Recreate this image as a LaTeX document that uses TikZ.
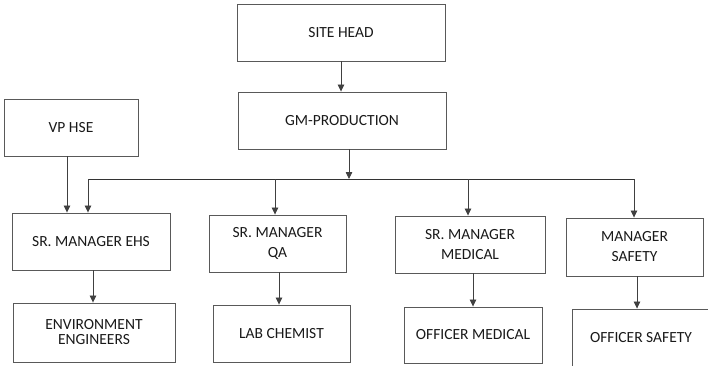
\documentclass[tikz,border=0pt]{standalone}
\usepackage{fontspec}
\setmainfont{Carlito}
\usetikzlibrary{arrows.meta}
\tikzset{
	orgbox/.style={draw=black!65, line width=0.9pt, inner sep=0pt, align=center, text=black!90,
		font=\fontsize{15.5}{20}\selectfont},
	link/.style={draw=black!75, line width=0.8pt, -{Triangle[width=6.5pt,length=7pt]}},
}

\begin{document}
\begin{tikzpicture}[x=1pt, y=-1pt]
				\useasboundingbox (0,0) rectangle (708,365);
				
				\node[orgbox, minimum width=208pt, minimum height=57pt] (site) at (341,32.5) {SITE HEAD};
				\node[orgbox, minimum width=208pt, minimum height=57pt] (gm) at (342,120.5) {GM-PRODUCTION};
				\node[orgbox, minimum width=134pt, minimum height=57pt] (vp) at (71,127.5) {VP HSE};
				
				\node[orgbox, minimum width=158pt, minimum height=57pt] (ehs) at (91,241.5) {SR. MANAGER EHS};
				\node[orgbox, minimum width=137pt, minimum height=57pt] (qa) at (277.5,243.5) {SR. MANAGER\\QA};
				\node[orgbox, minimum width=150pt, minimum height=57pt] (med) at (470,244.5) {SR. MANAGER\\MEDICAL};
				\node[orgbox, minimum width=137pt, minimum height=58pt] (saf) at (634.5,247) {MANAGER\\SAFETY};
				
				\node[orgbox, minimum width=162pt, minimum height=59pt] (env) at (94,332.5) {ENVIRONMENT\\[-5pt]ENGINEERS};
				\node[orgbox, minimum width=137pt, minimum height=57pt] (lab) at (281.5,333.5) {LAB CHEMIST};
				\node[orgbox, minimum width=138pt, minimum height=56pt] (offmed) at (473,335) {OFFICER MEDICAL};
				\node[orgbox, minimum width=138pt, minimum height=57pt] (offsaf) at (641,337.5) {OFFICER SAFETY};
				
				% bus below GM-PRODUCTION
				\coordinate (bus) at (349,179);
				\coordinate (busL) at (88,179);
				\coordinate (busR) at (634,179);
				\draw[black!80, line width=0.8pt] (busL) -- (busR);
				
				\draw[link] (site.south) -- (site.south |- gm.north);
				\draw[link] (gm.south -| bus) -- (bus);
				\draw[link] ([xshift=-4pt]vp.south) -- ([xshift=-4pt]vp.south |- ehs.north);
				
				\draw[link] (busL) -- (busL |- ehs.north);
				\draw[link] ([xshift=-2.5pt]qa.north |- bus) -- ([xshift=-2.5pt]qa.north);
				\draw[link] ([xshift=-2pt]med.north |- bus) -- ([xshift=-2pt]med.north);
				\draw[link] (busR) -- (busR |- saf.north);
				
				\draw[link] ([xshift=2pt]ehs.south) -- ([xshift=2pt]ehs.south |- env.north);
				\draw[link] ([xshift=1.5pt]qa.south) -- ([xshift=1.5pt]qa.south |- lab.north);
				\draw[link] ([xshift=3pt]med.south) -- ([xshift=3pt]med.south |- offmed.north);
				\draw[link] ([xshift=2.5pt]saf.south) -- ([xshift=2.5pt]saf.south |- offsaf.north);
			\end{tikzpicture}
\end{document}
